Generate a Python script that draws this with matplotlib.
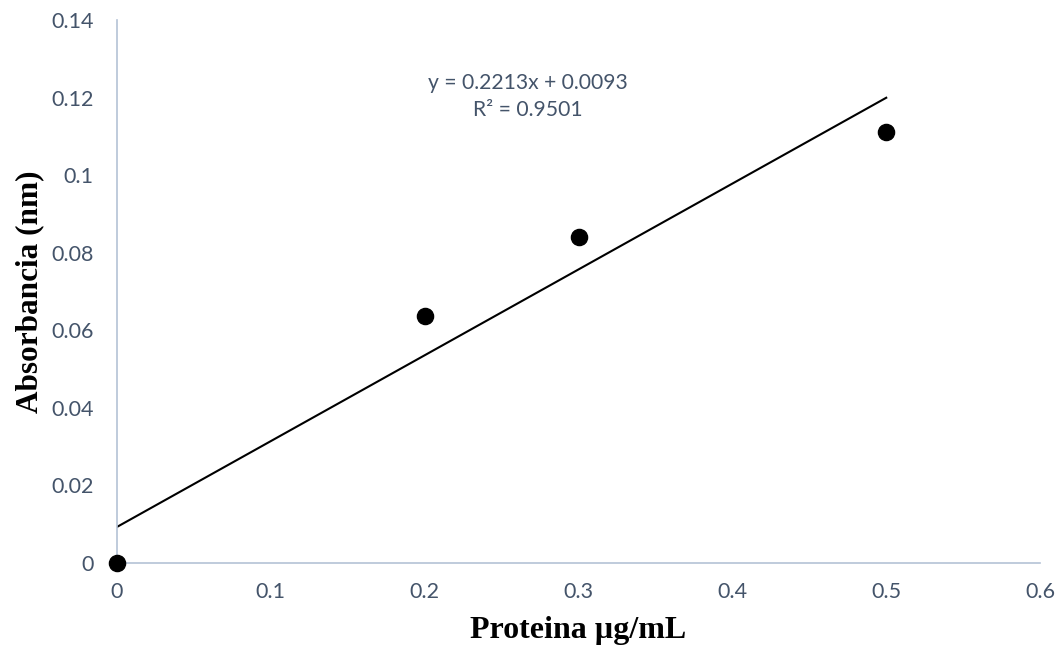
import numpy as np
import matplotlib.pyplot as plt

proteina = [0.0, 0.2, 0.3, 0.5]
absorbancia = [0.0, 0.06356, 0.08394, 0.1110]

xticks = [0, 0.1, 0.2, 0.3, 0.4, 0.5, 0.6]
yticks = [0, 0.02, 0.04, 0.06, 0.08, 0.1, 0.12, 0.14]

# ajuste lineal (linea de tendencia)
pendiente, intercepto = np.polyfit(proteina, absorbancia, 1)
pred = pendiente * np.array(proteina) + intercepto
ss_res = np.sum((np.array(absorbancia) - pred) ** 2)
ss_tot = np.sum((np.array(absorbancia) - np.mean(absorbancia)) ** 2)
r2 = 1 - ss_res / ss_tot

gris = '#44546A'
eje = '#B4C2D6'

fig = plt.figure(figsize=(10.6, 6.51), dpi=100)
ax = fig.add_axes([0.1104, 0.1352, 0.8708, 0.8341])

xs = np.array([0, max(proteina)])
ax.plot(xs, pendiente * xs + intercepto, color='black', lw=1.5, zorder=2)
ax.scatter(proteina, absorbancia, s=135, color='black', zorder=3, clip_on=False)

ax.set_xlim(0, 0.6)
ax.set_ylim(0, 0.14)
ax.set_xticks(xticks)
ax.set_yticks(yticks)
ax.set_xticklabels([f'{v:g}' for v in xticks])
ax.set_yticklabels([f'{v:g}' for v in yticks])
ax.tick_params(length=0, labelsize=15.5, labelcolor=gris)
ax.tick_params(axis='y', pad=17)
ax.tick_params(axis='x', pad=14)
for lab in ax.get_xticklabels() + ax.get_yticklabels():
    lab.set_family('Lato')

for s in ['top', 'right']:
    ax.spines[s].set_visible(False)
for s in ['left', 'bottom']:
    ax.spines[s].set_color(eje)
    ax.spines[s].set_linewidth(1.2)

ax.text(0.267, 0.1202, f'y = {pendiente:.4f}x + {intercepto:.4f}\nR² = {r2:.4f}',
        ha='center', va='center', fontsize=15.2, color=gris, family='Lato',
        linespacing=1.45)

ax.set_xlabel('Proteina µg/mL', family='Liberation Serif', fontweight='bold',
              fontsize=23, labelpad=10)
ax.set_ylabel('Absorbancia (nm)', family='Liberation Serif', fontweight='bold',
              fontsize=22.5, labelpad=5)

fig.savefig('out.png', dpi=100)
